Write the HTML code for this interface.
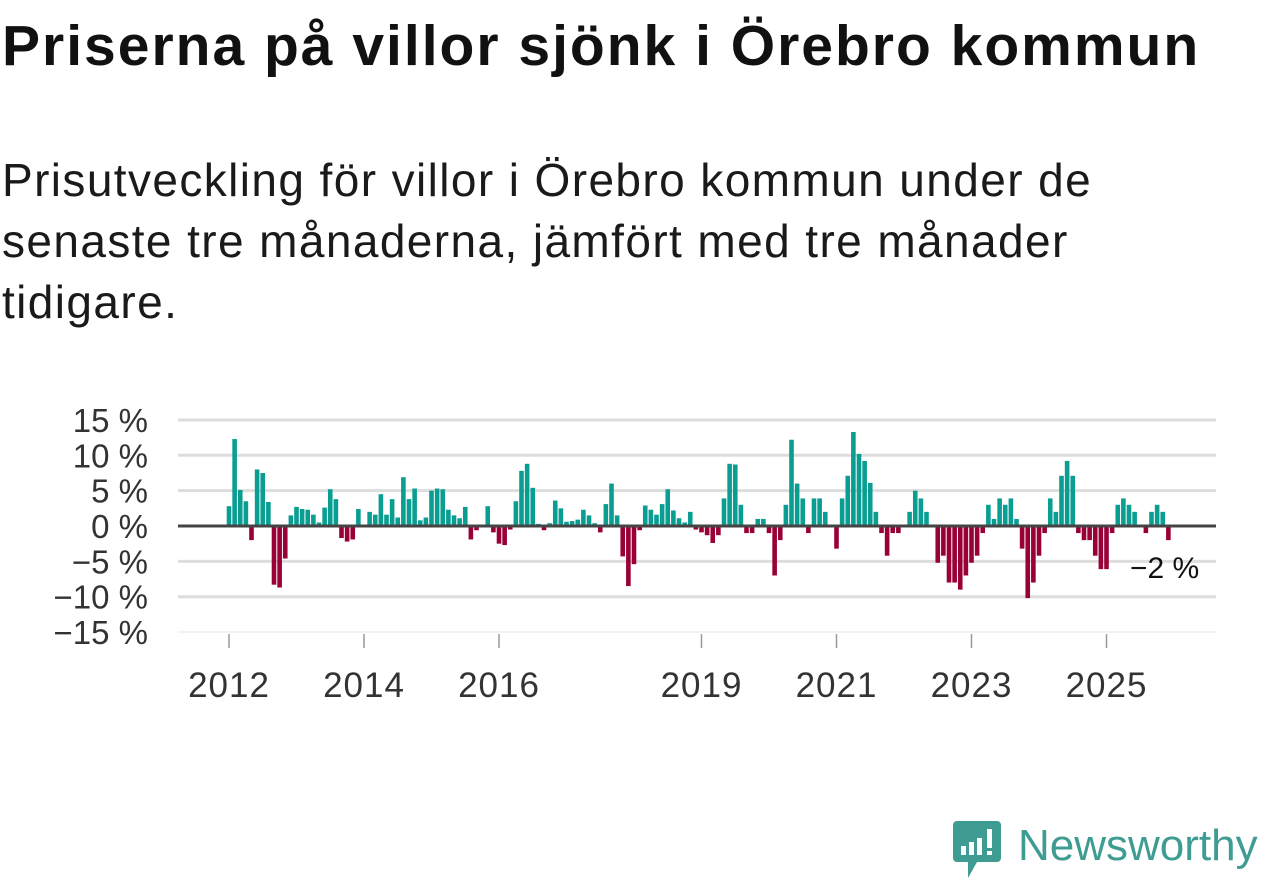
<!DOCTYPE html>
<html><head><meta charset="utf-8"><style>
html,body{margin:0;padding:0;background:#fff;width:1262px;height:879px;overflow:hidden;font-family:"Liberation Sans","DejaVu Sans",sans-serif;color:#111}
#title{position:absolute;left:2px;top:11px;font-size:57px;line-height:70px;font-weight:bold;margin:0;letter-spacing:2px;white-space:nowrap}
#sub{position:absolute;left:2px;top:150px;font-size:46px;line-height:61px;width:1250px;margin:0;color:#1a1a1a;letter-spacing:1.4px;white-space:nowrap}
svg{position:absolute;left:0;top:0}
</style></head><body>
<h1 id="title">Priserna på villor sjönk i Örebro kommun</h1>
<p id="sub">Prisutveckling för villor i Örebro kommun under de<br>senaste tre månaderna, jämfört med tre månader<br>tidigare.</p>
<svg width="1262" height="879">
<g id="grid"></g>
<g id="bars"></g>
<g id="axes"></g>
<g>
<path d="M957 821 h40 a4 4 0 0 1 4 4 v33 a4 4 0 0 1 -4 4 h-20 l-9 16 v-16 h-11 a4 4 0 0 1 -4 -4 v-33 a4 4 0 0 1 4 -4z" fill="#3f9c92"/>
<rect x="961" y="846" width="5" height="9" fill="#fff"/><rect x="969" y="842" width="5" height="13" fill="#fff"/><rect x="977" y="838" width="5" height="17" fill="#fff"/><rect x="987" y="829" width="5" height="19" fill="#fff"/><rect x="987" y="851" width="5" height="4" fill="#fff"/>
<text x="1018" y="860" font-size="44" fill="#3f9c92" font-family="Liberation Sans, sans-serif">Newsworthy</text>
</g>
</svg>
<script>
const values=[2.8,12.3,5.1,3.5,-2,8,7.5,3.4,-8.3,-8.7,-4.6,1.5,2.7,2.4,2.3,1.6,0.5,2.6,5.2,3.8,-1.7,-2.2,-1.9,2.4,
0,2.0,1.6,4.5,1.6,3.8,1.2,6.9,3.8,5.3,0.8,1.2,5.0,5.3,5.2,2.3,1.5,1.1,2.7,-1.9,-0.6,0,2.8,-0.9,
-2.5,-2.7,-0.5,3.5,7.8,8.8,5.4,0.3,-0.6,0.4,3.6,2.5,0.6,0.7,0.9,2.3,1.5,0.4,-0.9,3.1,6.0,1.5,-4.3,-8.5,
-5.4,-0.6,2.9,2.3,1.6,3.1,5.2,2.2,1.1,0.5,2.0,-0.5,-0.9,-1.3,-2.4,-1.3,3.9,8.8,8.7,3.0,-1,-1,
1.0,1.0,-1,-7.0,-2,3.0,12.2,6.0,3.9,-1,3.9,3.9,2.0,0,-3.2,3.9,7.1,13.3,10.2,9.2,6.1,2.0,-1,-4.2,
-1,-1,0,2.0,5.0,3.9,2.0,0,-5.2,-4.2,-8.0,-8.0,-9.0,-7.0,-5.2,-4.2,-1,3.0,1.0,3.9,3.0,3.9,
1.0,-3.2,-10.2,-8.0,-4.2,-1,3.9,2.0,7.1,9.2,7.1,-1,-2,-2,-4.2,-6.1,-6.1,-1,3.0,3.9,3.0,2.0,
0,-1,2.0,3.0,2.0,-2];
const startYear=2012;
const yTicks=[15,10,5,0,-5,-10,-15];
const xTickYears=[2012,2014,2016,2019,2021,2023,2025];
const lastLabel="−2 %";
const NS="http://www.w3.org/2000/svg";
const x0=229,pxPerMonth=5.625;
function xScale(m){return x0+m*pxPerMonth;}
function yScale(v){return 526-v*7.07;}
function mk(tag,attrs,parent){const e=document.createElementNS(NS,tag);for(const k in attrs)e.setAttribute(k,attrs[k]);parent.appendChild(e);return e;}
const grid=document.getElementById('grid'),bars=document.getElementById('bars'),axes=document.getElementById('axes');
yTicks.forEach(t=>{
 if(t!==0){const l=mk('line',{x1:178,x2:1216,y1:yScale(t),y2:yScale(t),stroke:t===-15?'#eeeeee':'#dddddd','stroke-width':t===-15?1.5:3},grid);
 
 }
 const tx=mk('text',{x:148,y:yScale(t)+12,'text-anchor':'end','font-size':33,fill:'#333'},axes);
 tx.textContent=(t<0?'−'+(-t):t)+' %';
 
 
});
values.forEach((v,i)=>{
 const x=xScale(i)-2.3, y0=yScale(0), y1=yScale(v);
 const r=mk('rect',{x:x,y:Math.min(y0,y1),width:4.6,height:Math.abs(y1-y0),fill:v>=0?'#0a9e92':'#990038'},bars);
 
 
});
const zl=mk('line',{x1:178,x2:1216,y1:yScale(0),y2:yScale(0),stroke:'#444','stroke-width':3},axes);


xTickYears.forEach(yr=>{
 const x=xScale((yr-startYear)*12);
 const t=mk('line',{x1:x,x2:x,y1:634,y2:648,stroke:'#999','stroke-width':1.5},axes);
 
 
 const tx=mk('text',{x:x,y:697,'text-anchor':'middle','font-size':35,'letter-spacing':1,fill:'#333'},axes);
 tx.textContent=yr;
 
 
});
const lv=values[values.length-1];
const lab=mk('text',{x:1130,y:yScale(lv)+38,'font-size':30,fill:'#111'},axes);
lab.textContent=lastLabel;


</script>
</body></html>
